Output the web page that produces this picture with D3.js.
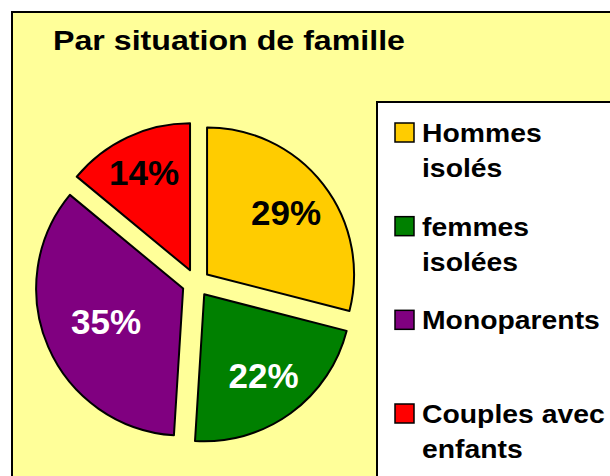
<!DOCTYPE html>
<html>
<head>
<meta charset="utf-8">
<script src="https://cdn.jsdelivr.net/npm/d3@7"></script>
<style>
  html, body { margin: 0; padding: 0; background: #ffffff; }
  svg { display: block; }
  text { font-family: "Liberation Sans", Arial, sans-serif; font-weight: bold; }
</style>
</head>
<body>
<script>
// Household situation breakdown
const categories = ["Hommes isolés", "femmes isolées", "Monoparents", "Couples avec enfants"];
const legendLines = [["Hommes", "isolés"], ["femmes", "isolées"], ["Monoparents"], ["Couples avec", "enfants"]];
const values = [29, 22, 35, 14];
const colors = ["#FFCC00", "#008000", "#800080", "#FF0000"];
const labelColors = ["#000000", "#ffffff", "#ffffff", "#000000"];
const title = "Par situation de famille";

const W = 610, H = 476;
const svg = d3.select("body").append("svg").attr("width", W).attr("height", H);

// chart area with frame
svg.append("rect")
  .attr("x", 12).attr("y", 12).attr("width", W + 20).attr("height", H + 20)
  .attr("fill", "#FFFF99").attr("stroke", "#000").attr("stroke-width", 2);

svg.append("text")
  .attr("x", 53).attr("y", 50)
  .attr("font-size", 28)
  .attr("textLength", 352).attr("lengthAdjust", "spacingAndGlyphs")
  .text(title);

// exploded pie
const cx = 196, cy = 283, R = 147, explode = 14;
const labelRadius = [100, 101, 84, 108];
const pie = d3.pie().sort(null).value(d => d).startAngle(0).endAngle(2 * Math.PI);
const arcs = pie(values);
const arc = d3.arc().innerRadius(0).outerRadius(R);

const pieG = svg.append("g").attr("transform", `translate(${cx},${cy})`);
const slices = pieG.selectAll("g.slice").data(arcs).join("g")
  .attr("class", "slice")
  .attr("transform", d => {
    const m = (d.startAngle + d.endAngle) / 2;
    return `translate(${Math.sin(m) * explode},${-Math.cos(m) * explode})`;
  });

slices.append("path")
  .attr("d", arc)
  .attr("fill", (d, i) => colors[i])
  .attr("stroke", "#000").attr("stroke-width", 2).attr("stroke-linejoin", "round");

slices.append("text")
  .attr("transform", (d, i) => {
    const r = labelRadius[i];
    const c = d3.arc().innerRadius(r).outerRadius(r).centroid(d);
    return `translate(${c[0]},${c[1] + 12})`;
  })
  .attr("text-anchor", "middle")
  .attr("font-size", 35)
  .attr("fill", (d, i) => labelColors[i])
  .text(d => d.data + "%");

// legend
const lg = svg.append("g");
lg.append("rect")
  .attr("x", 377).attr("y", 102).attr("width", 300).attr("height", 420)
  .attr("fill", "#ffffff").attr("stroke", "#000").attr("stroke-width", 2);

const rowY = d3.scalePoint().domain(d3.range(categories.length)).range([142, 423]);
const items = lg.selectAll("g.item").data(categories).join("g")
  .attr("class", "item")
  .attr("transform", (d, i) => `translate(0,${rowY(i)})`);

items.append("rect")
  .attr("x", 395).attr("y", -19).attr("width", 19).attr("height", 19)
  .attr("fill", (d, i) => colors[i])
  .attr("stroke", "#000").attr("stroke-width", 1.5);

items.append("text")
  .attr("transform", "translate(422,0) scale(1.09,1)")
  .attr("font-size", 26)
  .selectAll("tspan").data((d, i) => legendLines[i]).join("tspan")
  .attr("x", 0).attr("dy", (d, j) => j === 0 ? 0 : 35)
  .text(d => d);
</script>
</body>
</html>
